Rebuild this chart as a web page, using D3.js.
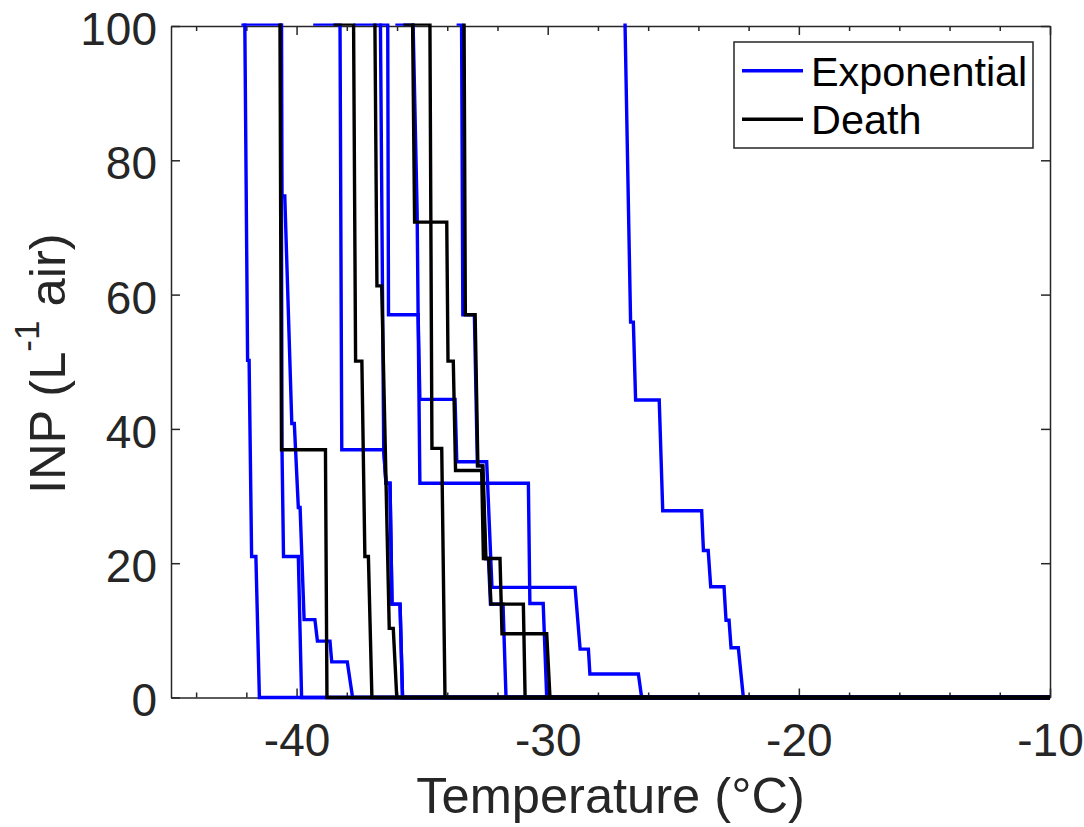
<!DOCTYPE html>
<html>
<head>
<meta charset="utf-8">
<script src="https://cdn.jsdelivr.net/npm/d3@7/dist/d3.min.js"></script>
<style>
  body { margin: 0; background: #fff; }
  svg { display: block; }
  text { font-family: "Liberation Sans", Arial, Helvetica, sans-serif; }
</style>
</head>
<body>
<svg id="chart" width="1084" height="827"></svg>
<script>
// INP spectra: each run is a list of [temperature (°C), INP (L^-1 air)] vertices.
// Values above 100 lie outside the plotted range and are clipped by the axes.

const exponential1 = [[-42.07,130],[-42.06,100],[-41.95,50.2],[-41.89,50.2],[-41.79,21.0],[-41.62,21.0],[-41.48,0]];
const exponential2 = [[-40.62,130],[-40.58,74.7],[-40.47,74.7],[-40.19,40.8],[-40.09,40.8],[-39.93,28.3],[-39.86,28.3],[-39.70,11.6],[-39.27,11.6],[-39.17,8.4],[-38.67,8.4],[-38.60,5.3],[-37.98,5.3],[-37.77,0]];
const exponential3 = [[-42.14,130],[-42.13,100.3],[-40.62,100.3],[-40.58,36.9],[-40.52,21.0],[-39.93,21.0],[-39.80,0]];
const exponential4 = [[-39.28,130],[-39.27,100.3],[-38.27,100.3],[-38.20,36.9],[-36.53,36.9],[-36.44,31.9],[-36.28,31.9],[-36.20,13.9],[-35.88,13.9],[-35.78,0]];
const exponential5 = [[-36.67,130],[-36.66,100],[-36.53,36.9],[-36.44,31.9],[-36.28,31.9],[-36.20,13.9],[-35.88,13.9],[-35.78,0]];
const exponential6 = [[-37.68,130],[-37.67,100.3],[-36.37,100.3],[-36.34,57.0],[-35.16,57.0],[-35.09,44.4],[-33.69,44.4],[-33.62,35.1],[-32.43,35.1],[-32.22,16.4],[-28.91,16.4],[-28.71,7.2],[-28.38,7.2],[-28.32,3.5],[-26.39,3.5],[-26.26,0]];
const exponential7 = [[-36.01,130],[-36.00,100.3],[-35.36,100.3],[-35.20,72.5],[-35.16,57.0],[-35.09,31.9],[-30.77,31.9],[-30.71,14.0],[-30.18,14.0],[-30.04,0]];
const exponential8 = [[-33.57,130],[-33.56,100.3],[-33.43,100.3],[-33.38,57.0],[-32.92,57.0],[-32.80,34.5],[-32.60,34.5],[-32.48,20.7],[-32.36,20.7],[-32.28,13.9],[-31.78,13.9],[-31.66,0]];
const exponential9 = [[-26.93,130],[-26.92,100],[-26.70,55.9],[-26.59,55.9],[-26.50,44.3],[-25.56,44.3],[-25.42,27.8],[-23.87,27.8],[-23.80,21.9],[-23.61,21.9],[-23.51,16.5],[-22.98,16.5],[-22.90,11.5],[-22.78,11.5],[-22.70,7.4],[-22.41,7.4],[-22.21,0]];

const death1 = [[-40.67,130],[-40.66,100],[-40.60,36.9],[-38.85,36.9],[-38.79,0]];
const death2 = [[-38.47,130],[-38.46,100.3],[-37.73,100.3],[-37.65,50.1],[-37.40,50.1],[-37.28,21.0],[-37.14,21.0],[-37.00,0]];
const death3 = [[-36.89,130],[-36.88,100],[-36.80,61.3],[-36.61,61.3],[-36.31,10.3],[-36.15,10.3],[-36.01,0]];
const death4 = [[-35.69,130],[-35.68,100.3],[-35.38,100.3],[-35.30,70.8],[-34.02,70.8],[-33.97,50.1],[-33.76,50.1],[-33.67,33.8],[-32.63,33.8],[-32.56,20.7],[-31.90,20.7],[-31.82,9.5],[-30.04,9.5],[-29.91,0]];
const death5 = [[-35.37,130],[-35.36,100.3],[-34.69,100.3],[-34.61,37.1],[-34.22,37.1],[-34.09,0]];
const death6 = [[-33.34,130],[-33.33,100],[-33.28,57.0],[-32.89,57.0],[-32.78,34.5],[-32.58,34.5],[-32.46,20.7],[-32.34,20.7],[-32.26,13.9],[-30.97,13.9],[-30.90,0]];

const exponentialRuns = [exponential1, exponential2, exponential3, exponential4, exponential5,
                         exponential6, exponential7, exponential8, exponential9];
const deathRuns = [death1, death2, death3, death4, death5, death6];

const seriesNames = ["Exponential", "Death"];
const xDomain = [-45, -10];
const yDomain = [0, 100];
const xTicks = [-40, -30, -20, -10];
const xMinorTicks = [-44, -42, -38, -36, -34, -32, -28, -26, -24, -22, -18, -16, -14, -12];
const yTicks = [0, 20, 40, 60, 80, 100];
const xLabel = "Temperature (°C)";

// ---- layout & style ----
const W = 1084, H = 827;
const plot = { left: 171, right: 1050, top: 26, bottom: 697.5 };
const colors = { Exponential: "#0000ff", Death: "#000000" };
const axisColor = "#262626";
const tickFont = 46, labelFont = 50.6, legendFont = 41.4;
const lineWidth = 3.4;

const svg = d3.select("#chart");
svg.append("rect").attr("width", W).attr("height", H).attr("fill", "#fff");

const x = d3.scaleLinear().domain(xDomain).range([plot.left, plot.right]);
const y = d3.scaleLinear().domain(yDomain).range([plot.bottom, plot.top]);

function styleAxis(g) {
  g.selectAll(".domain").attr("stroke", axisColor).attr("stroke-width", 1.5);
  g.selectAll(".tick line").attr("stroke", axisColor).attr("stroke-width", 1.5);
  g.selectAll(".tick text").attr("fill", axisColor).attr("font-size", tickFont);
}

// bottom axis with labels
svg.append("g").attr("transform", `translate(0,${plot.bottom})`)
  .call(d3.axisBottom(x).tickValues(xTicks).tickSizeInner(-9).tickSizeOuter(0)
        .tickPadding(26).tickFormat(d => String(d)))
  .call(styleAxis);
svg.append("g").attr("transform", `translate(0,${plot.bottom})`)
  .call(d3.axisBottom(x).tickValues(xMinorTicks).tickSizeInner(-5).tickSizeOuter(0).tickFormat(""))
  .call(g => g.select(".domain").remove())
  .call(styleAxis);
// top axis (ticks only)
svg.append("g").attr("transform", `translate(0,${plot.top})`)
  .call(d3.axisTop(x).tickValues(xTicks).tickSizeInner(-9).tickSizeOuter(0).tickFormat(""))
  .call(styleAxis);
svg.append("g").attr("transform", `translate(0,${plot.top})`)
  .call(d3.axisTop(x).tickValues(xMinorTicks).tickSizeInner(-5).tickSizeOuter(0).tickFormat(""))
  .call(g => g.select(".domain").remove())
  .call(styleAxis);
// left axis with labels
svg.append("g").attr("transform", `translate(${plot.left},0)`)
  .call(d3.axisLeft(y).tickValues(yTicks).tickSizeInner(-9).tickSizeOuter(0).tickPadding(14)
        .tickFormat(d => String(d)))
  .call(styleAxis)
  .call(g => g.selectAll(".tick text").attr("dy", "0.40em"));
// right axis (ticks only)
svg.append("g").attr("transform", `translate(${plot.right},0)`)
  .call(d3.axisRight(y).tickValues(yTicks).tickSizeInner(-9).tickSizeOuter(0).tickFormat(""))
  .call(styleAxis);

// data lines, clipped slightly outside the axes box
svg.append("clipPath").attr("id", "plotClip")
  .append("rect")
  .attr("x", plot.left - 2).attr("y", plot.top - 2.5)
  .attr("width", plot.right - plot.left + 4).attr("height", plot.bottom - plot.top + 5);

const line = d3.line().x(d => x(d[0])).y(d => y(d[1]));
const lines = svg.append("g").attr("clip-path", "url(#plotClip)");

function drawRuns(runs, name) {
  lines.append("g").selectAll("path")
    .data(runs.map(r => r.concat([[xDomain[1], 0]])))
    .join("path")
    .attr("d", line)
    .attr("fill", "none")
    .attr("stroke", colors[name])
    .attr("stroke-width", lineWidth)
    .attr("stroke-linejoin", "miter")
    .attr("stroke-miterlimit", 4);
}
drawRuns(exponentialRuns, "Exponential");
drawRuns(deathRuns, "Death");

// axis titles
svg.append("text")
  .attr("x", (plot.left + plot.right) / 2).attr("y", 813)
  .attr("text-anchor", "middle").attr("font-size", labelFont).attr("fill", axisColor)
  .text(xLabel);

const yTitle = svg.append("text")
  .attr("transform", `translate(65,${(plot.top + plot.bottom) / 2 + 2}) rotate(-90)`)
  .attr("text-anchor", "middle").attr("font-size", labelFont).attr("fill", axisColor);
yTitle.append("tspan").text("INP (L");
yTitle.append("tspan").attr("font-size", 35).attr("dy", -26).text("-1");
yTitle.append("tspan").attr("dy", 26).text(" air)");

// legend
const legend = { left: 734, top: 42, right: 1033, bottom: 148 };
svg.append("rect")
  .attr("x", legend.left).attr("y", legend.top)
  .attr("width", legend.right - legend.left).attr("height", legend.bottom - legend.top)
  .attr("fill", "#fff").attr("stroke", axisColor).attr("stroke-width", 1.5);

const legendRow = d3.scalePoint().domain(seriesNames).range([70.7, 119.3]);
const items = svg.append("g").selectAll("g").data(seriesNames).join("g")
  .attr("transform", d => `translate(0,${legendRow(d)})`);
items.append("line")
  .attr("x1", 742).attr("x2", 803).attr("y1", 0).attr("y2", 0)
  .attr("stroke", d => colors[d]).attr("stroke-width", lineWidth);
items.append("text")
  .attr("x", 811).attr("y", 0).attr("dy", "0.36em")
  .attr("font-size", legendFont).attr("fill", "#000")
  .text(d => d);
</script>
</body>
</html>
